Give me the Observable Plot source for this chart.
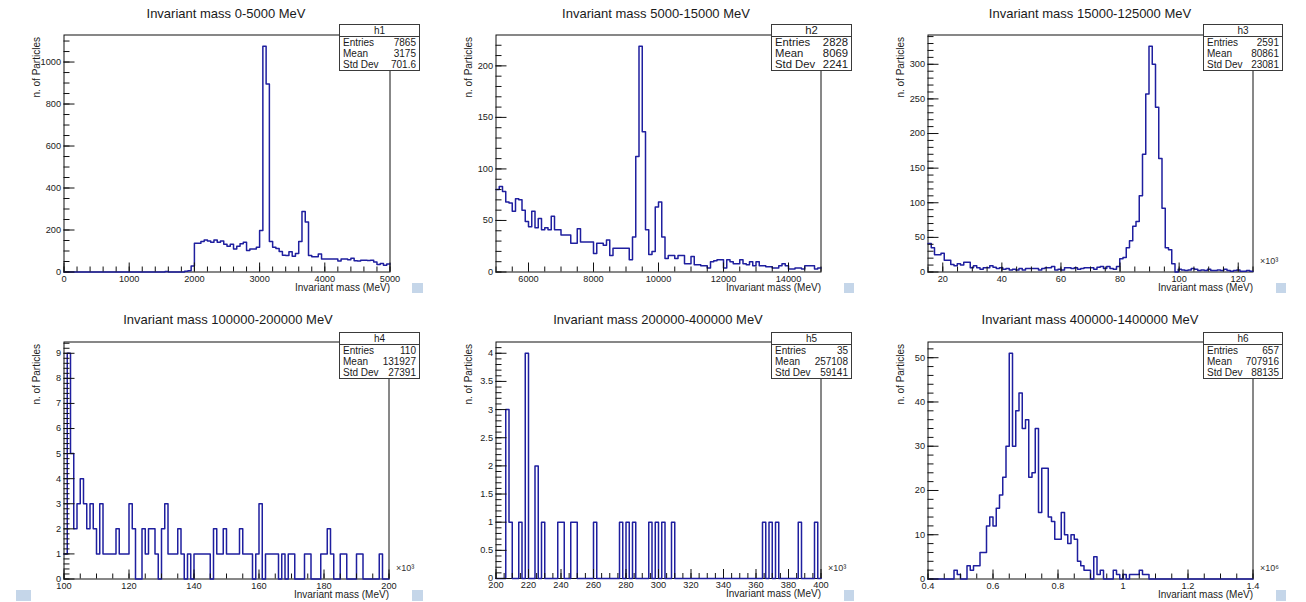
<!DOCTYPE html>
<html><head><meta charset="utf-8">
<script src="https://cdn.jsdelivr.net/npm/d3@7"></script>
<script src="https://cdn.jsdelivr.net/npm/@observablehq/plot@0.6"></script>
<style>
html,body{margin:0;padding:0;background:#fff;}
#root{position:relative;width:1306px;height:602px;overflow:hidden;font-family:"Liberation Sans",Arial,sans-serif;color:#1a1a1a;}
.panel{position:absolute;}
.title{position:absolute;font-size:13px;white-space:nowrap;transform:translate(-50%,-50%);color:#1a1a1a;}
.stats{position:absolute;background:#fff;border:1.5px solid #3a3a3a;box-sizing:border-box;color:#1a1a1a;line-height:1;}
.stats .hdr{text-align:center;border-bottom:1.5px solid #3a3a3a;display:flex;align-items:center;justify-content:center;}
.stats .row{display:flex;justify-content:space-between;align-items:center;padding:0 3px 0 3px;}
.sq{position:absolute;background:#c5d6e9;}
</style></head><body><div id="root"></div><script>
// ---------- data (counts per bin, 100 bins each) ----------
const h1Counts = [0,0,0,0,0,0,0,0,0,0, 0,0,0,0,0,0,0,0,0,0, 0,0,0,0,0,0,0,0,0,0,
  0,2,0,0,0,0,0,4,6,28,
  137,137,145,153,148,142,153,142,148,132,
  123,132,110,123,134,142,102,110,110,118,
  198,1075,895,145,118,112,98,80,78,97,
  75,88,145,288,238,78,73,73,86,62,
  62,62,62,62,52,62,62,58,66,54,
  52,56,56,55,56,48,36,40,32,38];
const h2Counts = [80,83,78,68,67,59,71,70,60,49,
  44,59,43,52,41,43,41,54,41,41,
  36,36,36,28,28,42,29,29,29,29,
  18,28,28,26,31,16,23,23,23,23,
  23,12,34,112,219,136,41,17,20,63,
  68,34,13,16,16,13,16,16,8,8,
  15,7,7,6,6,4,10,11,12,12,
  4,12,10,8,8,12,8,7,10,6,
  10,6,6,5,5,4,4,6,8,6,
  3,3,4,4,3,6,6,6,3,4];
const h3Counts = [41,35,25,25,27,17,17,11,9,12,
  10,14,14,6,9,6,4,6,6,9,
  7,5,6,4,5,3,4,3,5,3,
  5,5,5,5,3,5,6,6,8,3,
  4,3,6,6,5,6,4,5,6,6,
  6,4,7,8,5,8,5,4,8,19,
  21,35,45,66,73,110,170,257,326,300,
  238,164,92,35,32,12,0,4,3,2,
  3,5,4,2,3,2,4,2,2,3,
  2,4,2,1,2,3,1,1,2,1];
const h4Counts = [1,9,5,2,3,4,3,2,3,2,
  1,3,1,1,1,1,2,1,1,1,
  3,2,0,0,2,1,2,2,1,0,
  2,3,1,1,1,2,1,0,1,0,
  1,1,1,1,1,0,2,1,1,2,
  1,1,1,1,2,1,1,1,0,1,
  3,0,1,1,1,1,0,1,0,1,
  1,0,0,0,1,1,0,0,0,1,
  1,2,1,0,0,1,1,0,0,0,
  1,1,0,0,0,0,0,1,0,0];
const h5Counts = [0,0,0,3,1,0,0,1,0,4,
  0,0,2,0,1,0,0,0,0,1,
  1,0,0,1,1,0,0,0,0,0,
  1,0,0,0,0,0,0,0,1,0,
  1,0,1,0,0,0,0,1,0,1,
  0,1,0,0,1,0,0,0,0,0,
  0,0,0,0,0,0,0,0,0,0,
  0,0,0,0,0,0,0,0,0,0,
  0,0,1,0,1,0,1,0,0,0,
  0,0,0,1,0,0,0,0,1,0];
const h6Counts = [0,0,0,0,0,0,0,0,2,1,
  0,0,3,2,3,3,6,6,12,14,
  12,16,19,23,30,51,30,38,42,34,
  36,23,24,34,15,25,25,14,13,9,
  9,15,10,8,10,9,4,3,2,2,
  0,5,1,2,0,0,0,2,1,0,
  1,0,1,1,1,2,1,1,0,0,
  0,0,0,0,0,0,0,0,0,0,
  0,0,0,0,0,0,0,0,0,0,
  0,0,0,0,0,0,0,0,0,0];

const titles = ["Invariant mass 0-5000 MeV","Invariant mass 5000-15000 MeV","Invariant mass 15000-125000 MeV",
  "Invariant mass 100000-200000 MeV","Invariant mass 200000-400000 MeV","Invariant mass 400000-1400000 MeV"];
const histNames = ["h1","h2","h3","h4","h5","h6"];
const ranges = [[0,5000],[5000,15000],[15000,125000],[100000,200000],[200000,400000],[400000,1400000]];
const entries = ["7865","2828","2591","110","35","657"];
const means = ["3175","8069","80861","131927","257108","707916"];
const stdDevs = ["701.6","2241","23081","27391","59141","88135"];
const xMajorTicks = [
  [0,1000,2000,3000,4000,5000],
  [6000,8000,10000,12000,14000],
  [20000,40000,60000,80000,100000,120000],
  [100000,120000,140000,160000,180000,200000],
  [200000,220000,240000,260000,280000,300000,320000,340000,360000,380000,400000],
  [400000,600000,800000,1000000,1200000,1400000]];
const xMinorSteps = [200,500,5000,5000,5000,50000];
const yMajorTicks = [
  [0,200,400,600,800,1000],
  [0,50,100,150,200],
  [0,50,100,150,200,250,300],
  [0,1,2,3,4,5,6,7,8,9],
  [0,0.5,1,1.5,2,2.5,3,3.5,4],
  [0,10,20,30,40,50]];
const yMinorSteps = [50,10,10,0.2,0.1,2];
const xScaleDiv = [1,1,1e3,1e3,1e3,1e6];
const exponentLabels = [null,null,"×10³","×10³","×10³","×10⁶"];
const xTitle = "Invariant mass (MeV)";
const yTitle = "n. of Particles";
const allCounts = [h1Counts,h2Counts,h3Counts,h4Counts,h5Counts,h6Counts];

// ---------- layout ----------
const layout = [
  {box:[0,0,435,300], frame:[63.5,389.5,34.5,271.5], title:[226,13], stats:[339,24,81,47,10]},
  {box:[435,0,435,300], frame:[495.5,820.5,34.5,271.5], title:[656,13], stats:[771,24,81,47,11.3]},
  {box:[870,0,436,300], frame:[927.5,1252.5,34.5,271.5], title:[1090,13], stats:[1203,24,80,47,10]},
  {box:[0,300,435,302], frame:[63.5,388.5,341.5,578.5], title:[228,319], stats:[339,332,81,47,10]},
  {box:[435,300,435,302], frame:[495.5,820.5,341.5,578], title:[658,319], stats:[771,332,81,47,10]},
  {box:[870,300,436,302], frame:[927.5,1252.5,341.5,578.5], title:[1090,319], stats:[1203,332,80,47,10]}];
const squares = [[412,283,11,10],[844,283,10,10],[1276,283,10,10],[16,590,15,11],[412,590,11,11],[844,590,10,11],[1276,590,10,11]];
const LINE = "#1f1f9f";
const FONT = "'Liberation Sans', Arial, sans-serif";

const root = document.getElementById("root");

allCounts.forEach((counts, p) => {
  const [lo, hi] = ranges[p];
  const n = counts.length;
  const w = (hi - lo) / n;
  const pts = counts.map((c, i) => ({x: lo + i * w, y: c}));
  pts.push({x: hi, y: counts[n - 1]});
  const ymax = d3.max(counts) * 1.05;
  const [bx, by, bw, bh] = layout[p].box;
  const [fl, fr, ft, fb] = layout[p].frame;
  const xs = xMinorSteps[p];
  const xMinor = d3.range(lo, hi + xs / 2, xs);
  const yMinor = d3.range(0, ymax, yMinorSteps[p]);
  const div = xScaleDiv[p];
  const marks = [
    Plot.frame({stroke: "#111", strokeWidth: 1}),
    Plot.line(pts, {x: "x", y: "y", curve: "step-after", stroke: LINE, strokeWidth: 1.5}),
    Plot.axisX(xMinor, {anchor: "bottom", tickSize: -5, text: null, label: null, stroke: "#111"}),
    Plot.axisX(xMajorTicks[p], {anchor: "bottom", tickSize: -9, text: null, label: null, stroke: "#111"}),
    Plot.axisX(xMajorTicks[p], {anchor: "bottom", tickSize: 0, tickPadding: 3, label: null, fontSize: 9.2,
      tickFormat: d => String(+(d / div).toFixed(6))}),
    Plot.axisY(yMinor, {anchor: "left", tickSize: -6, text: null, label: null, stroke: "#111"}),
    Plot.axisY(yMajorTicks[p], {anchor: "left", tickSize: -11, text: null, label: null, stroke: "#111"}),
    Plot.axisY(yMajorTicks[p], {anchor: "left", tickSize: 0, tickPadding: 3, label: null, fontSize: 9.2,
      tickFormat: d => String(d)}),
    Plot.text([yTitle], {text: d => d, frameAnchor: "top-left", rotate: -90, textAnchor: "end", dx: -31, dy: 2, fontSize: 10, fill: "#222"}),
    Plot.text([xTitle], {text: d => d, frameAnchor: "bottom-right", textAnchor: "end", dy: 18.5, fontSize: 10, fill: "#222"})
  ];
  if (exponentLabels[p]) {
    marks.push(Plot.text([exponentLabels[p]], {text: d => d, frameAnchor: "bottom-right", textAnchor: "start", dx: 7, dy: -8, fontSize: 9, fill: "#333"}));
  }
  const chart = Plot.plot({
    width: bw, height: bh,
    marginLeft: fl - bx, marginRight: bx + bw - fr, marginTop: ft - by, marginBottom: by + bh - fb,
    x: {domain: [lo, hi], axis: null},
    y: {domain: [0, ymax], axis: null},
    style: {fontFamily: FONT, fontSize: "9.2px", color: "#1a1a1a", background: "transparent", overflow: "visible"},
    marks
  });
  const holder = document.createElement("div");
  holder.className = "panel";
  Object.assign(holder.style, {left: bx + "px", top: by + "px", width: bw + "px", height: bh + "px"});
  holder.appendChild(chart);
  root.appendChild(holder);
});

// titles, stats boxes, squares on top
allCounts.forEach((counts, p) => {
  const t = document.createElement("div");
  t.className = "title";
  t.textContent = titles[p];
  t.style.left = layout[p].title[0] + "px";
  t.style.top = layout[p].title[1] + "px";
  root.appendChild(t);

  const [sx, sy, sw, sh, fs] = layout[p].stats;
  const s = document.createElement("div");
  s.className = "stats";
  Object.assign(s.style, {left: sx + "px", top: sy + "px", width: sw + "px", height: sh + "px", fontSize: fs + "px"});
  const hdrH = 11;
  const rowH = (sh - 3 - hdrH) / 3;
  const hdr = document.createElement("div");
  hdr.className = "hdr"; hdr.style.height = hdrH + "px"; hdr.textContent = histNames[p];
  s.appendChild(hdr);
  [["Entries", entries[p]], ["Mean", means[p]], ["Std Dev", stdDevs[p]]].forEach(([k, v]) => {
    const r = document.createElement("div");
    r.className = "row"; r.style.height = rowH + "px";
    const a = document.createElement("span"); a.textContent = k;
    const b = document.createElement("span"); b.textContent = v;
    r.appendChild(a); r.appendChild(b);
    s.appendChild(r);
  });
  root.appendChild(s);
});
squares.forEach(([x, y, w, h]) => {
  const q = document.createElement("div");
  q.className = "sq";
  Object.assign(q.style, {left: x + "px", top: y + "px", width: w + "px", height: h + "px"});
  root.appendChild(q);
});
</script></body></html>
